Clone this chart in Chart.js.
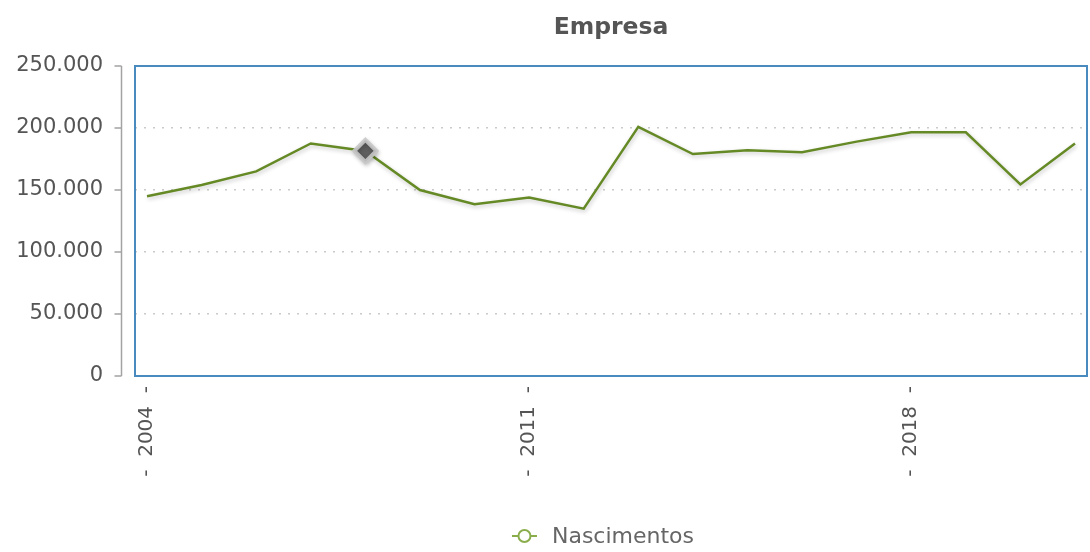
<!DOCTYPE html>
<html lang="pt">
  <head>
    <meta charset="UTF-8" />
    <title>Empresa</title>
    <script src="https://cdn.jsdelivr.net/npm/chart.js"></script>
    <style>
      body { margin: 0; background: #fff; }
      .chart_div { width: 1090px; height: 552px; }
    </style>
  </head>
  <body>
    <div class="chart_div">
      <canvas id="chart-area"></canvas>
    </div>

    <script>
      const years = [2004, 2005, 2006, 2007, 2008, 2009, 2010, 2011, 2012,
        2013, 2014, 2015, 2016, 2017, 2018, 2019, 2020, 2021];
      const nascimentos = [145000, 154000, 165000, 187500, 181500, 150000,
        138500, 144000, 135000, 201000, 179000, 182000, 180500, 189000,
        196500, 196500, 154500, 187500];
      const tickYears = [2004, 2011, 2018];
      const highlightYear = 2008;

      const fontFamily = "Verdana, 'DejaVu Sans', sans-serif";
      const green = "#658a25";

      // 250000 -> "250.000"
      function fmt(v) {
        return String(v).replace(/\B(?=(\d{3})+(?!\d))/g, ".");
      }

      // blue frame, y axis line, title and legend
      const frame = {
        id: "frame",
        beforeDatasetDraw(chart) {
          const c = chart.ctx;
          c.save();
          c.shadowColor = "rgba(0,0,0,0.22)";
          c.shadowBlur = 4;
          c.shadowOffsetX = 1;
          c.shadowOffsetY = 2;
        },
        afterDatasetDraw(chart) {
          chart.ctx.restore();
        },
        afterDraw(chart) {
          const c = chart.ctx;
          const a = chart.chartArea;
          const y = chart.scales.y;
          c.save();

          c.strokeStyle = "#4a8bbf";
          c.lineWidth = 2;
          c.strokeRect(a.left, a.top, a.right - a.left, a.bottom - a.top);

          const ax = a.left - 13.5;
          c.strokeStyle = "#a3a3a3";
          c.lineWidth = 1.5;
          c.beginPath();
          c.moveTo(ax, a.top);
          c.lineTo(ax, a.bottom);
          y.ticks.forEach((t) => {
            const py = y.getPixelForValue(t.value);
            c.moveTo(ax - 7, py);
            c.lineTo(ax, py);
          });
          c.stroke();

          const cx = (a.left + a.right) / 2;
          c.fillStyle = "#555";
          c.font = "bold 23.5px " + fontFamily;
          c.textAlign = "center";
          c.textBaseline = "alphabetic";
          c.fillText("Empresa", cx, 34);

          // legend
          const label = chart.data.datasets[0].label;
          c.font = "22px " + fontFamily;
          const tw = c.measureText(label).width;
          const x0 = cx - 8 - (tw + 40) / 2;
          const ly = 536;
          c.strokeStyle = "#8aad4c";
          c.lineWidth = 2;
          c.beginPath();
          c.moveTo(x0, ly);
          c.lineTo(x0 + 25, ly);
          c.stroke();
          c.beginPath();
          c.arc(x0 + 12.5, ly, 6, 0, Math.PI * 2);
          c.fillStyle = "#fff";
          c.fill();
          c.stroke();
          c.fillStyle = "#666";
          c.textAlign = "left";
          c.fillText(label, x0 + 40, 543);

          c.restore();
        },
      };

      const ctx = document.getElementById("chart-area").getContext("2d");

      new Chart(ctx, {
        type: "line",
        data: {
          datasets: [
            {
              label: "Nascimentos",
              data: years.map((yr, i) => ({ x: yr, y: nascimentos[i] })),
              borderColor: green,
              borderWidth: 2.5,
              tension: 0,
              fill: false,
              pointStyle: "rectRot",
              pointRadius: years.map((yr) => (yr === highlightYear ? 11 : 0)),
              pointBackgroundColor: "#5f5f5f",
              pointBorderColor: "rgba(200,200,200,0.9)",
              pointBorderWidth: 4,
            },
          ],
        },
        options: {
          responsive: true,
          maintainAspectRatio: false,
          animation: false,
          events: [],
          layout: { padding: { top: 66, right: 3, left: 0, bottom: 0 } },
          plugins: {
            legend: { display: false },
            title: { display: false },
            tooltip: { enabled: false },
          },
          scales: {
            x: {
              type: "linear",
              min: 2003.78,
              max: 2021.22,
              grid: { display: false, drawTicks: false },
              border: { display: false },
              afterBuildTicks: (s) => {
                s.ticks = tickYears.map((v) => ({ value: v }));
              },
              afterFit: (s) => {
                s.height = 176;
              },
              ticks: {
                autoSkip: false,
                minRotation: 90,
                maxRotation: 90,
                padding: 10,
                color: "#555",
                font: { family: fontFamily, size: 20 },
                callback: (v) => "-  " + v + "  -",
              },
            },
            y: {
              min: 0,
              max: 250000,
              afterFit: (s) => {
                s.width = 135;
              },
              grid: {
                drawTicks: false,
                lineWidth: 1.5,
                color: (c) =>
                  c.tick && (c.tick.value === 0 || c.tick.value === 250000)
                    ? "rgba(0,0,0,0)"
                    : "#cacaca",
              },
              border: { display: false, dash: [2, 7] },
              ticks: {
                stepSize: 50000,
                padding: 32,
                color: "#555",
                font: { family: fontFamily, size: 21 },
                callback: (v) => fmt(v),
              },
            },
          },
        },
        plugins: [frame],
      });
    </script>
  </body>
</html>
